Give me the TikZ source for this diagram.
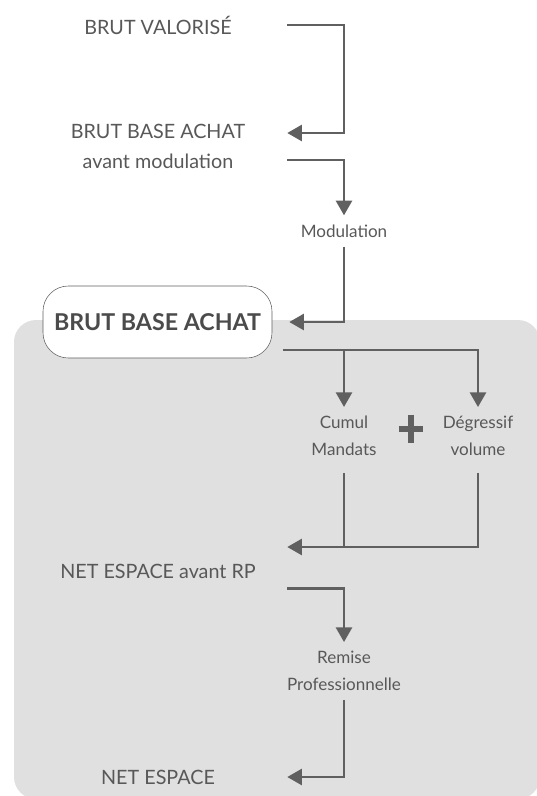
\documentclass[tikz,border=0pt]{standalone}
\usepackage{fontspec}
\setmainfont{Lato}
\usetikzlibrary{arrows.meta}
\definecolor{inkgray}{RGB}{96,96,96}
\definecolor{txtgray}{RGB}{88,88,88}
\definecolor{panelgray}{RGB}{224,224,224}
\tikzset{
    flow/.style={draw=inkgray,line width=2pt,-{Triangle[length=11pt,width=12pt]}},
    rail/.style={draw=inkgray,line width=2pt},
    plusbar/.style={draw=inkgray,line width=5pt},
    lcol/.style={text=txtgray,font=\fontsize{14.8}{22.5}\selectfont,align=center,
        minimum width=193.5pt,inner sep=0pt},
    rcol/.style={text=txtgray,font=\fontsize{12.8}{20}\selectfont,align=center,
        inner sep=0pt,outer ysep=7pt},
    keybox/.style={draw=inkgray,fill=white,rounded corners=19pt,
        minimum width=171.75pt,minimum height=54pt,text=txtgray!85!black,
        font=\fontsize{17.4}{20}\selectfont\bfseries}
}
\begin{document}
\begin{tikzpicture}[x=0.75pt,y=-0.75pt]
\useasboundingbox (0,0) rectangle (536,796);
% panneau gris
\fill[panelgray,rounded corners=16.5pt] (14,320) rectangle (540,799);

\node[lcol] (valo) at (158,25) {BRUT VALORISÉ};
\node[lcol] (bbav) at (158,146) {BRUT BASE ACHAT\\avant modulation};
\node[rcol] (modu) at (344,231) {Modulation};
\node[keybox] (bba) at (157.5,322) {BRUT BASE ACHAT};
\node[rcol] (cumul) at (344,436) {Cumul\\Mandats};
\node[rcol] (degr) at (478,436) {Dégressif\\volume};
\node[minimum width=18pt,minimum height=21pt,inner sep=0pt] (plus) at (411,429) {};
\node[lcol] (nea) at (158,571) {NET ESPACE avant RP};
\node[rcol] (remise) at (344,671) {Remise\\Professionnelle};
\node[lcol] (net) at (158,777) {NET ESPACE};

\coordinate (bbin) at ([yshift=9.75pt]bbav.east);
\coordinate (bbout) at ([yshift=-10.5pt]bbav.east);
\coordinate (split) at (283,350);
\coordinate (merge) at ([yshift=18pt]nea.east);
\coordinate (rpin) at ([yshift=-13pt]nea.east);

\draw[flow] (valo.east) -| (modu |- bbin) -- (bbin);
\draw[flow] (bbout) -| (modu.north);
\draw[flow,shorten >=12.75pt] (modu.south) |- (bba.east);
\draw[flow] (split) -| (degr.north);
\draw[flow] (split -| cumul) -- (cumul.north);
\draw[flow,shorten <=6pt] (degr.south) |- (merge);
\draw[rail,shorten <=6pt] (cumul.south) -- (cumul |- merge);
\draw[flow] (rpin) -| (remise.north);
\draw[flow] (remise.south) |- (net.east);
\draw[plusbar] (plus.west) -- (plus.east) (plus.north) -- (plus.south);
\end{tikzpicture}
\end{document}
